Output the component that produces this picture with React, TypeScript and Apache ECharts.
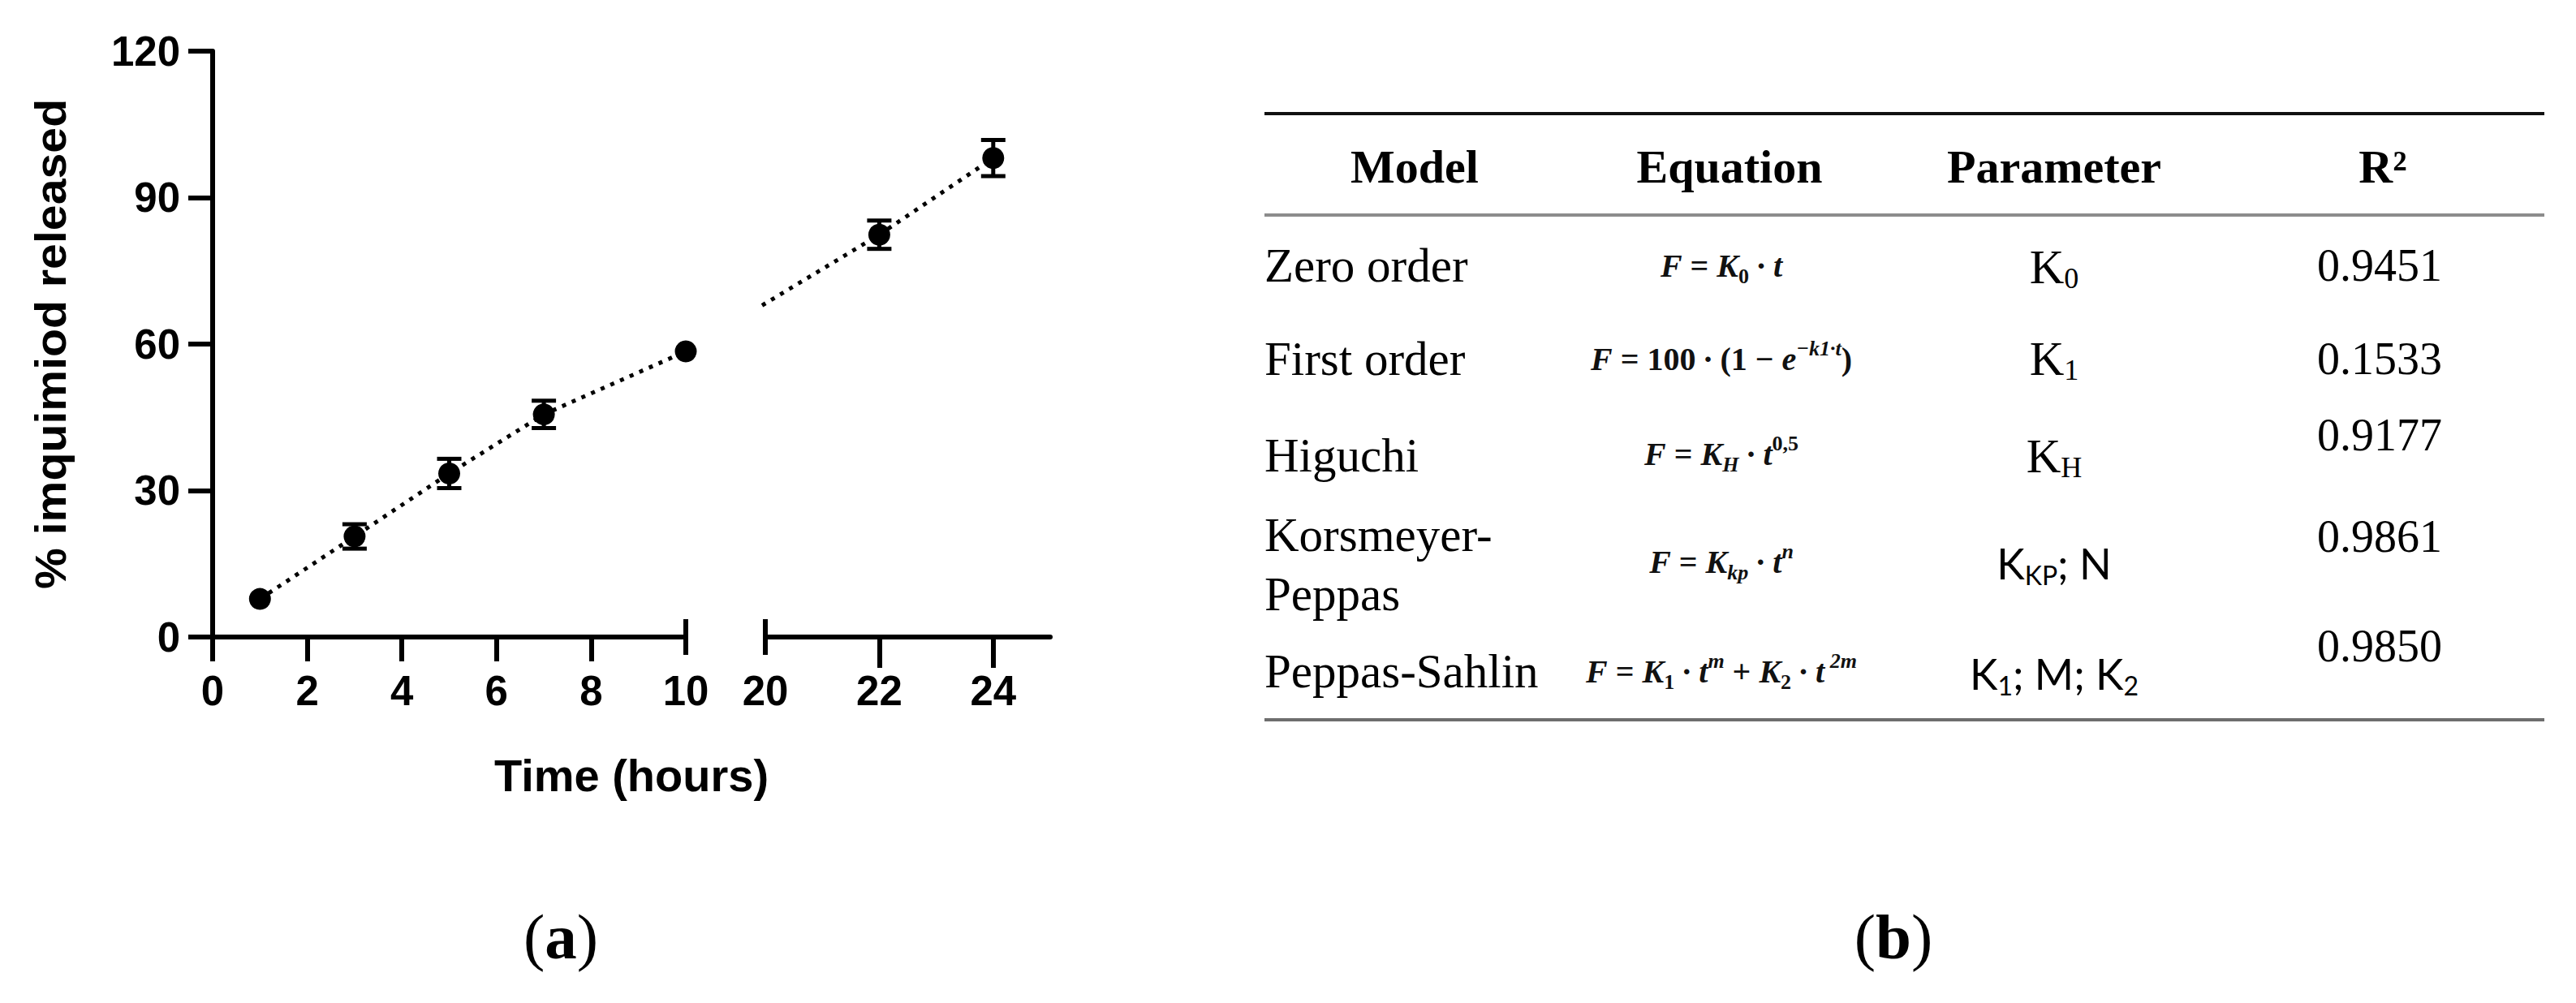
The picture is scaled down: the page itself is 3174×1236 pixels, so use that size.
import React, { useEffect, useRef } from 'react';
import * as echarts from 'echarts';

// ---------------- Panel (a) data ----------------
const timesEarly = [1, 3, 5, 7, 10];
const releaseEarly = [7.8, 20.6, 33.5, 45.6, 58.5];
const sdEarly = [1.2, 2.5, 3.0, 2.8, 1.5];
const timesLate = [22, 24];
const releaseLate = [82.4, 98.1];
const sdLate = [2.9, 3.7];

const xTickLabelsEarly = [0, 2, 4, 6, 8, 10];
const xTickMarksEarly = [0, 2, 4, 6, 8];
const xTickLabelsLate = [20, 22, 24];
const xTickMarksLate = [22, 24];

const yAxisTitle = '% imquimiod released';
const xAxisTitle = 'Time (hours)';

// ---------------- Panel (b) table ----------------
const tableHeaders = ['Model', 'Equation', 'Parameter', 'R²'];
const models = ['Zero order', 'First order', 'Higuchi', 'Korsmeyer-\nPeppas', 'Peppas-Sahlin'];
const equations = [
  '{i|F}{n| = }{i|K}{sbn|0}{n| ∙ }{i|t}',
  '{i|F}{n| = 100 ∙ (1 − }{i|e}{sp|−k1∙t}{n|)}',
  '{i|F}{n| = }{i|K}{sb|H}{n| ∙ }{i|t}{spn|0,5}',
  '{i|F}{n| = }{i|K}{sb|kp}{n| ∙ }{i|t}{sp|n}',
  '{i|F}{n| = }{i|K}{sbn|1}{n| ∙ }{i|t}{sp|m}{n| + }{i|K}{sbn|2}{n| ∙ }{i|t}{sp| 2m}',
];
const parameters = [
  '{K|K}{s|0}',
  '{K|K}{s|1}',
  '{K|K}{s|H}',
  '{K|K}{s|KP}{n|; N}',
  '{K|K}{s|1}{n|; M; }{K|K}{s|2}',
];
const parameterSans = [false, false, false, true, true];
const r2Values = ['0.9451', '0.1533', '0.9177', '0.9861', '0.9850'];
const captions = ['a', 'b'];

// ---------------- layout / style ----------------
const W = 3174;
const H = 1236;
const SANS = '"Liberation Sans", Arial, Helvetica, sans-serif';
const SERIF = '"Liberation Serif", "Times New Roman", serif';
const LATO = 'Lato, "Open Sans", sans-serif';

const X_A_MIN = 0, X_A_MAX = 10;
const X_B_MIN = 20, X_B_MAX = 25;
const Y_MIN = 0, Y_MAX = 120;
const GRID_A = { left: 262, top: 63, width: 583, height: 722 };
const GRID_B = { left: 943, top: 63, width: 351, height: 722 };
const SYMBOL = 27;

const modelX = 1558;
const colX = [1743, 2121, 2531, 2932];
const headerX = [1743, 2131, 2531, 2936];
const headerY = 205;
const modelY = [327, 442, 561, 695, 827];
const eqY = [327, 442, 559, 692, 827];
const paramY = [329, 442, 562, 694, 830];
const r2Y = [327, 442, 536, 661, 796];
const ruleX1 = 1558, ruleX2 = 3135;
const captionX = [691, 2333];
const captionY = 1154;

const AXIS_W = 6;

function errorBarItem(params: any, api: any) {
  const x = api.value(0);
  const lo = api.coord([x, api.value(1)]);
  const hi = api.coord([x, api.value(2)]);
  // like the original software: error bars shorter than the symbol are hidden
  if ((lo[1] - hi[1]) / 2 <= SYMBOL / 2) return null;
  const hw = 15;
  const style = { stroke: '#000', lineWidth: 5 };
  return {
    type: 'group',
    children: [
      { type: 'line', shape: { x1: lo[0], y1: lo[1], x2: hi[0], y2: hi[1] }, style },
      { type: 'line', shape: { x1: hi[0] - hw, y1: hi[1], x2: hi[0] + hw, y2: hi[1] }, style },
      { type: 'line', shape: { x1: lo[0] - hw, y1: lo[1], x2: lo[0] + hw, y2: lo[1] }, style },
    ],
  };
}

function breakMarkItem(params: any, api: any) {
  const p = api.coord([api.value(0), api.value(1)]);
  return {
    type: 'line',
    shape: { x1: p[0], y1: p[1] - 22, x2: p[0], y2: p[1] + 22 },
    style: { stroke: '#000', lineWidth: AXIS_W },
  };
}

export default function App() {
  const ref = useRef<HTMLDivElement>(null);

  useEffect(() => {
    if (!ref.current) return;
    const chart = echarts.init(ref.current, undefined, { renderer: 'svg' });

    const bridgeItem = (params: any, api: any) => {
      const x1v = api.value(0), y1v = api.value(1), x2v = api.value(2), y2v = api.value(3);
      const p2 = api.coord([x2v, y2v]);
      const y1 = api.coord([x2v, y1v])[1];
      let conv: any = null;
      try {
        conv = chart.convertToPixel({ xAxisIndex: 0 } as any, x1v);
      } catch (e) {
        conv = null;
      }
      const x1 = typeof conv === 'number' && isFinite(conv)
        ? conv
        : GRID_A.left + (GRID_A.width * (x1v - X_A_MIN)) / (X_A_MAX - X_A_MIN);
      const cs = params.coordSys;
      const sx = cs.x - 4;
      const f = (sx - x1) / (p2[0] - x1);
      const sy = y1 + f * (p2[1] - y1);
      return {
        type: 'line',
        shape: { x1: sx, y1: sy, x2: p2[0], y2: p2[1] },
        style: { stroke: '#000', lineWidth: 5, lineDash: [5, 8] },
      };
    };

    const axisLine = { show: true, onZero: false, lineStyle: { color: '#000', width: AXIS_W } };
    const tickLabel = { fontFamily: SANS, fontWeight: 'bold', fontSize: 51, color: '#000' };

    const lastE = timesEarly.length - 1;

    // ---- table graphics ----
    const tableEls: any[] = [];
    tableEls.push({ type: 'line', shape: { x1: ruleX1, y1: 140, x2: ruleX2, y2: 140 }, style: { stroke: '#111', lineWidth: 4 } });
    tableEls.push({ type: 'line', shape: { x1: ruleX1, y1: 265, x2: ruleX2, y2: 265 }, style: { stroke: '#8c8c8c', lineWidth: 4 } });
    tableEls.push({ type: 'line', shape: { x1: ruleX1, y1: 887, x2: ruleX2, y2: 887 }, style: { stroke: '#6e6e6e', lineWidth: 4 } });
    tableHeaders.forEach((h, i) => {
      tableEls.push({
        type: 'text', x: headerX[i], y: headerY,
        style: { text: h, fontFamily: SERIF, fontWeight: 'bold', fontSize: 58, fill: '#000', align: 'center', verticalAlign: 'middle' },
      });
    });
    models.forEach((m, i) => {
      tableEls.push({
        type: 'text', x: modelX, y: modelY[i],
        style: { text: m, fontFamily: SERIF, fontSize: 59, lineHeight: 73, fill: '#000', align: 'left', verticalAlign: 'middle' },
      });
    });
    const eqRich = {
      i: { fontFamily: SERIF, fontStyle: 'italic', fontWeight: 'bold', fontSize: 40, lineHeight: 52, fill: '#111' },
      n: { fontFamily: SERIF, fontWeight: 'bold', fontSize: 40, lineHeight: 52, fill: '#111' },
      sb: { fontFamily: SERIF, fontStyle: 'italic', fontWeight: 'bold', fontSize: 26, lineHeight: 26, verticalAlign: 'bottom', fill: '#111' },
      sbn: { fontFamily: SERIF, fontWeight: 'bold', fontSize: 26, lineHeight: 26, verticalAlign: 'bottom', fill: '#111' },
      sp: { fontFamily: SERIF, fontStyle: 'italic', fontWeight: 'bold', fontSize: 26, lineHeight: 26, verticalAlign: 'top', fill: '#111' },
      spn: { fontFamily: SERIF, fontWeight: 'bold', fontSize: 26, lineHeight: 26, verticalAlign: 'top', fill: '#111' },
    };
    equations.forEach((e, i) => {
      tableEls.push({
        type: 'text', x: colX[1], y: eqY[i],
        style: { text: e, rich: eqRich, align: 'center', verticalAlign: 'middle' },
      });
    });
    const serifParamRich = {
      K: { fontFamily: SERIF, fontSize: 59, lineHeight: 64, fill: '#000' },
      s: { fontFamily: SERIF, fontSize: 36, lineHeight: 36, verticalAlign: 'bottom', fill: '#000' },
      n: { fontFamily: SERIF, fontSize: 59, lineHeight: 64, fill: '#000' },
    };
    const sansParamRich = {
      K: { fontFamily: LATO, fontSize: 52, lineHeight: 60, fill: '#000' },
      s: { fontFamily: LATO, fontSize: 32, lineHeight: 32, verticalAlign: 'bottom', fill: '#000' },
      n: { fontFamily: LATO, fontSize: 52, lineHeight: 60, fill: '#000' },
    };
    parameters.forEach((p, i) => {
      tableEls.push({
        type: 'text', x: colX[2], y: paramY[i],
        style: { text: p, rich: parameterSans[i] ? sansParamRich : serifParamRich, align: 'center', verticalAlign: 'middle' },
      });
    });
    r2Values.forEach((r, i) => {
      tableEls.push({
        type: 'text', x: colX[3], y: r2Y[i],
        style: { text: r, fontFamily: SERIF, fontSize: 56, fill: '#000', align: 'center', verticalAlign: 'middle' },
      });
    });
    captions.forEach((c, i) => {
      tableEls.push({
        type: 'text', x: captionX[i], y: captionY,
        style: {
          text: `{p|(}{b|${c}}{p|)}`,
          rich: {
            p: { fontFamily: SERIF, fontSize: 79, fill: '#000' },
            b: { fontFamily: SERIF, fontSize: 79, fontWeight: 'bold', fill: '#000' },
          },
          align: 'center', verticalAlign: 'middle',
        },
      });
    });

    const option: any = {
      animation: false,
      backgroundColor: '#ffffff',
      grid: [
        { ...GRID_A, containLabel: false, outerBoundsMode: 'none' },
        { ...GRID_B, containLabel: false, outerBoundsMode: 'none' },
      ],
      xAxis: [
        {
          gridIndex: 0, type: 'value', min: X_A_MIN, max: X_A_MAX, interval: 2,
          axisLine,
          axisTick: { show: true, length: 30, lineStyle: { color: '#000', width: AXIS_W }, customValues: xTickMarksEarly },
          axisLabel: { ...tickLabel, margin: 41, customValues: xTickLabelsEarly },
          splitLine: { show: false },
        },
        {
          gridIndex: 1, type: 'value', min: X_B_MIN, max: X_B_MAX, interval: 2,
          axisLine,
          axisTick: { show: true, length: 38, lineStyle: { color: '#000', width: AXIS_W }, customValues: xTickMarksLate },
          axisLabel: { ...tickLabel, margin: 41, customValues: xTickLabelsLate },
          splitLine: { show: false },
        },
      ],
      yAxis: [
        {
          gridIndex: 0, type: 'value', min: Y_MIN, max: Y_MAX, interval: 30,
          axisLine,
          axisTick: { show: true, length: 30, lineStyle: { color: '#000', width: AXIS_W } },
          axisLabel: { ...tickLabel, margin: 40 },
          splitLine: { show: false },
        },
        { gridIndex: 1, type: 'value', min: Y_MIN, max: Y_MAX, interval: 30, show: false, splitLine: { show: false } },
      ],
      graphic: {
        elements: [
          {
            type: 'text', x: 63, y: (GRID_A.top + GRID_A.top + GRID_A.height) / 2, rotation: Math.PI / 2, scaleX: 1.06,
            style: { text: yAxisTitle, fontFamily: SANS, fontWeight: 'bold', fontSize: 54, fill: '#000', align: 'center', verticalAlign: 'middle' },
          },
          {
            type: 'text', x: (GRID_A.left + GRID_B.left + GRID_B.width) / 2, y: 955,
            style: { text: xAxisTitle, fontFamily: SANS, fontWeight: 'bold', fontSize: 56, fill: '#000', align: 'center', verticalAlign: 'middle' },
          },
          ...tableEls,
        ],
      },
      series: [
        {
          type: 'line', xAxisIndex: 0, yAxisIndex: 0, z: 2,
          data: timesEarly.map((t, i) => [t, releaseEarly[i]]),
          symbol: 'none', showSymbol: false,
          lineStyle: { color: '#000', width: 5, type: [5, 8] },
        },
        {
          type: 'line', xAxisIndex: 1, yAxisIndex: 1, z: 2,
          data: timesLate.map((t, i) => [t, releaseLate[i]]),
          symbol: 'none', showSymbol: false,
          lineStyle: { color: '#000', width: 5, type: [5, 8] },
        },
        {
          type: 'custom', xAxisIndex: 1, yAxisIndex: 1, z: 2,
          dimensions: ['t1', 'v1', 't2', 'v2'],
          encode: { x: [0, 2], y: [1, 3] },
          data: [[timesEarly[lastE], releaseEarly[lastE], timesLate[0], releaseLate[0]]],
          renderItem: bridgeItem,
        },
        {
          type: 'custom', xAxisIndex: 0, yAxisIndex: 0, z: 3,
          dimensions: ['t', 'lo', 'hi'],
          encode: { x: 0, y: [1, 2] },
          data: timesEarly.map((t, i) => [t, releaseEarly[i] - sdEarly[i], releaseEarly[i] + sdEarly[i]]),
          renderItem: errorBarItem,
        },
        {
          type: 'custom', xAxisIndex: 1, yAxisIndex: 1, z: 3,
          dimensions: ['t', 'lo', 'hi'],
          encode: { x: 0, y: [1, 2] },
          data: timesLate.map((t, i) => [t, releaseLate[i] - sdLate[i], releaseLate[i] + sdLate[i]]),
          renderItem: errorBarItem,
        },
        {
          type: 'scatter', xAxisIndex: 0, yAxisIndex: 0, z: 4,
          data: timesEarly.map((t, i) => [t, releaseEarly[i]]),
          symbol: 'circle', symbolSize: SYMBOL,
          itemStyle: { color: '#000', opacity: 1 },
        },
        {
          type: 'scatter', xAxisIndex: 1, yAxisIndex: 1, z: 4,
          data: timesLate.map((t, i) => [t, releaseLate[i]]),
          symbol: 'circle', symbolSize: SYMBOL,
          itemStyle: { color: '#000', opacity: 1 },
        },
        {
          type: 'custom', xAxisIndex: 0, yAxisIndex: 0, z: 5,
          data: [[X_A_MAX, Y_MIN]],
          renderItem: breakMarkItem,
        },
        {
          type: 'custom', xAxisIndex: 1, yAxisIndex: 1, z: 5,
          data: [[X_B_MIN, Y_MIN]],
          renderItem: breakMarkItem,
        },
      ],
    };

    chart.setOption(option);
    return () => {
      chart.dispose();
    };
  }, []);

  return (
    <div
      ref={ref}
      style={{ position: 'absolute', left: 0, top: 0, width: W, height: H, background: '#fff' }}
    />
  );
}
